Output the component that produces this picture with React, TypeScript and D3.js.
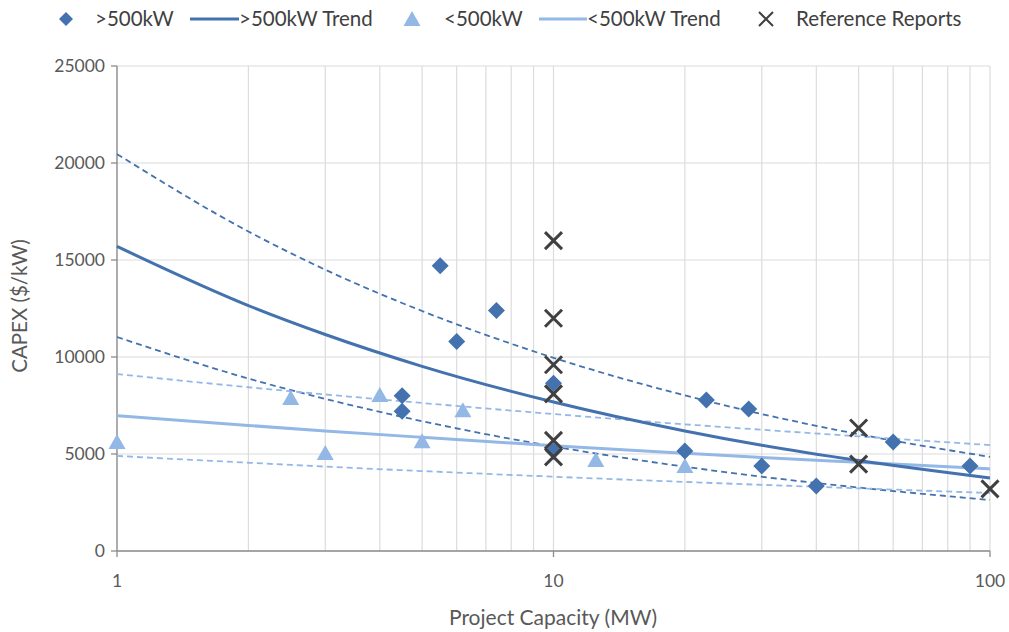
import * as d3 from "d3"

// >500kW projects
const bigX = [5.5, 7.4, 6, 4.5, 4.5, 10, 10, 20, 22.4, 28, 30, 40, 60, 90]
const bigY = [14700, 12400, 10800, 8000, 7200, 8650, 5150, 5150, 7780, 7320, 4380, 3350, 5620, 4380]

// <500kW projects
const smallX = [1, 2.5, 3, 4, 5, 6.2, 12.5, 20]
const smallY = [5570, 7830, 5000, 7990, 5600, 7200, 4640, 4330]

// Reference reports
const refX = [10, 10, 10, 10, 10, 10, 50, 50, 100]
const refY = [16000, 12000, 9600, 8100, 5700, 4850, 6340, 4480, 3200]

// trend lines, read at these capacities
const trendX = [1, 2, 3, 5, 10, 20, 30, 50, 100]
const bigTrend = [15700, 12650, 11160, 9520, 7680, 6190, 5450, 4660, 3760]
const bigUpper = [20460, 16470, 14500, 12370, 9960, 8020, 7060, 6020, 4850]
const bigLower = [11030, 8890, 7840, 6690, 5390, 4345, 3830, 3270, 2630]
const smallTrend = [6975, 6470, 6190, 5860, 5430, 5040, 4820, 4570, 4230]
const smallUpper = [9120, 8440, 8070, 7630, 7060, 6530, 6250, 5910, 5460]
const smallLower = [4900, 4550, 4350, 4120, 3830, 3560, 3410, 3230, 2990]

const yTicks = [0, 5000, 10000, 15000, 20000, 25000]
const xTicks = [1, 10, 100]

const DARK = "#4372ae"
const LIGHT = "#94b8e6"
const XCOL = "#404040"
const FONT = "Lato, 'Open Sans', sans-serif"

export default function App() {
  const width = 1009
  const height = 632
  const left = 117
  const right = 990
  const top = 66
  const bottom = 551

  const x = d3.scaleLog().domain([1, 100]).range([left, right])
  const y = d3.scaleLinear().domain([0, 25000]).range([bottom, top])

  const gridX: number[] = []
  for (let d = 1; d <= 10; d *= 10) for (let k = 1; k <= 9; k++) gridX.push(d * k)
  gridX.push(100)

  const line = d3
    .line<number>()
    .x((_, i) => x(trendX[i]))
    .y((v) => y(v))
    .curve(d3.curveMonotoneX)

  const diamond = (cx: number, cy: number, r = 8.5) =>
    `M${cx},${cy - r}L${cx + r},${cy}L${cx},${cy + r}L${cx - r},${cy}Z`
  const triangle = (cx: number, cy: number) =>
    `M${cx},${cy - 9}L${cx + 8.5},${cy + 6}L${cx - 8.5},${cy + 6}Z`
  const cross = (cx: number, cy: number, r = 8.5) =>
    `M${cx - r},${cy - r}L${cx + r},${cy + r}M${cx - r},${cy + r}L${cx + r},${cy - r}`

  const lines = [
    { v: bigUpper, c: DARK, dash: "6,4", w: 1.8 },
    { v: bigLower, c: DARK, dash: "6,4", w: 1.8 },
    { v: smallUpper, c: LIGHT, dash: "6,4", w: 1.8 },
    { v: smallLower, c: LIGHT, dash: "6,4", w: 1.8 },
    { v: smallTrend, c: LIGHT, dash: null, w: 3 },
    { v: bigTrend, c: DARK, dash: null, w: 3 },
  ]

  const ly = 19
  return (
    <svg
      width={width}
      height={height}
      style={{ position: "absolute", left: 0, top: 0, background: "#fff" }}
      fontFamily={FONT}
    >
      {/* grid */}
      {gridX.map((g) => (
        <line key={"gx" + g} x1={x(g)} x2={x(g)} y1={top} y2={bottom} stroke="#dcdcdc" strokeWidth={1.2} />
      ))}
      {yTicks.map((t) => (
        <line key={"gy" + t} x1={left} x2={right} y1={y(t)} y2={y(t)} stroke="#dcdcdc" strokeWidth={1.2} />
      ))}
      {/* axes */}
      <line x1={left} x2={left} y1={top} y2={bottom} stroke="#8c8c8c" strokeWidth={1.3} />
      <line x1={left} x2={right} y1={bottom} y2={bottom} stroke="#8c8c8c" strokeWidth={1.3} />
      {yTicks.map((t) => (
        <g key={"yt" + t}>
          <line x1={left - 6} x2={left} y1={y(t)} y2={y(t)} stroke="#8c8c8c" strokeWidth={1.3} />
          <text x={left - 12} y={y(t)} dy="0.35em" textAnchor="end" fontSize={17.5} fill="#595959">
            {t}
          </text>
        </g>
      ))}
      {xTicks.map((t) => (
        <g key={"xt" + t}>
          <line x1={x(t)} x2={x(t)} y1={bottom} y2={bottom + 6} stroke="#8c8c8c" strokeWidth={1.3} />
          <text x={x(t)} y={587} textAnchor="middle" fontSize={17.5} fill="#595959">
            {t}
          </text>
        </g>
      ))}
      <text x={553} y={625} textAnchor="middle" fontSize={21} fill="#595959">
        Project Capacity (MW)
      </text>
      <text transform="translate(27,306) rotate(-90)" textAnchor="middle" fontSize={20.5} fill="#595959">
        CAPEX ($/kW)
      </text>

      {/* trend lines */}
      {lines.map((l, i) => (
        <path
          key={"l" + i}
          d={line(l.v) || ""}
          fill="none"
          stroke={l.c}
          strokeWidth={l.w}
          strokeDasharray={l.dash || undefined}
        />
      ))}

      {/* points */}
      {smallX.map((v, i) => (
        <path key={"s" + i} d={triangle(x(v), y(smallY[i]))} fill={LIGHT} />
      ))}
      {bigX.map((v, i) => (
        <path key={"b" + i} d={diamond(x(v), y(bigY[i]))} fill={DARK} />
      ))}
      {refX.map((v, i) => (
        <path key={"r" + i} d={cross(x(v), y(refY[i]))} stroke={XCOL} strokeWidth={3} fill="none" />
      ))}

      {/* legend */}
      <g fontSize={20.5} fill="#404040">
        <path d={diamond(66, ly, 7)} fill={DARK} />
        <text x={95} y={ly} dy="0.35em">&gt;500kW</text>
        <line x1={190} x2={239} y1={ly} y2={ly} stroke={DARK} strokeWidth={3} />
        <text x={239} y={ly} dy="0.35em">&gt;500kW Trend</text>
        <path d={triangle(412, ly + 1)} fill={LIGHT} />
        <text x={444} y={ly} dy="0.35em">&lt;500kW</text>
        <line x1={539} x2={587} y1={ly} y2={ly} stroke={LIGHT} strokeWidth={3} />
        <text x={587} y={ly} dy="0.35em">&lt;500kW Trend</text>
        <path d={cross(766, ly, 7)} stroke={XCOL} strokeWidth={2} fill="none" />
        <text x={796} y={ly} dy="0.35em">Reference Reports</text>
      </g>
    </svg>
  )
}
